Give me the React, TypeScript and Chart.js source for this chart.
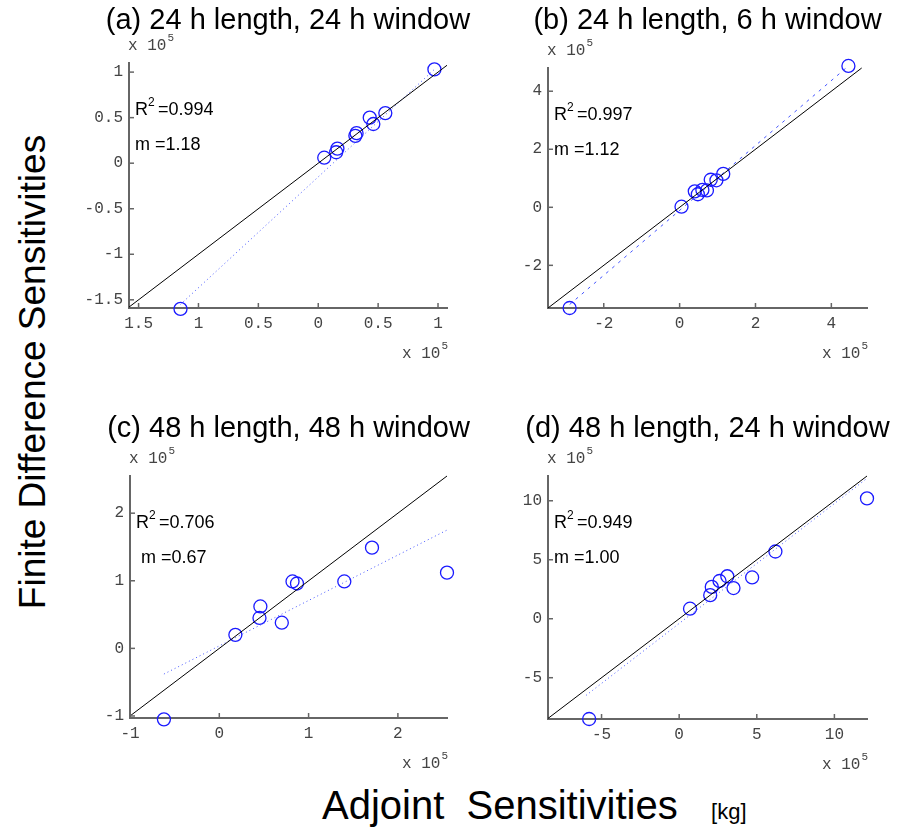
import React, { useEffect, useRef } from "react";
import { Chart, registerables } from "chart.js";
Chart.register(...registerables);

type P = { x: number; y: number };
const ptsA: P[] = [{x:-1.15,y:-1.6},{x:0.05,y:0.06},{x:0.15,y:0.12},{x:0.16,y:0.16},{x:0.31,y:0.3},{x:0.32,y:0.33},{x:0.43,y:0.5},{x:0.46,y:0.43},{x:0.56,y:0.55},{x:0.97,y:1.03}];
const fitA: P[] = [{x:-1.15,y:-1.55},{x:0.97,y:1.03}];
const ptsB: P[] = [{x:-2.9,y:-3.47},{x:0.05,y:0.02},{x:0.4,y:0.55},{x:0.48,y:0.45},{x:0.6,y:0.6},{x:0.72,y:0.58},{x:0.82,y:0.95},{x:0.97,y:0.93},{x:1.15,y:1.15},{x:4.45,y:4.87}];
const fitB: P[] = [{x:-2.9,y:-3.35},{x:4.45,y:4.87}];
const ptsC: P[] = [{x:-0.62,y:-1.05},{x:0.18,y:0.2},{x:0.45,y:0.45},{x:0.46,y:0.62},{x:0.7,y:0.38},{x:0.82,y:0.99},{x:0.87,y:0.96},{x:1.4,y:0.99},{x:1.71,y:1.49},{x:2.55,y:1.12}];
const fitC: P[] = [{x:-0.62,y:-0.38},{x:2.55,y:1.75}];
const ptsD: P[] = [{x:-5.8,y:-8.5},{x:0.7,y:0.85},{x:2.0,y:2.0},{x:2.1,y:2.7},{x:2.6,y:3.2},{x:3.1,y:3.6},{x:3.5,y:2.6},{x:4.7,y:3.5},{x:6.2,y:5.7},{x:12.1,y:10.2}];
const fitD: P[] = [{x:-6.0,y:-6.5},{x:12.0,y:11.8}];

const xTicksA = [-1.5, -1, -0.5, 0, 0.5, 1];
const yTicksA = [-1.5, -1, -0.5, 0, 0.5, 1];
const xTicksB = [-2, 0, 2, 4];
const yTicksB = [-2, 0, 2, 4];
const xTicksC = [-1, 0, 1, 2];
const yTicksC = [-1, 0, 1, 2];
const xTicksD = [-5, 0, 5, 10];
const yTicksD = [-5, 0, 5, 10];

type Panel = {
  title: string; r2: string; m: string; pts: P[]; fit: P[]; fitDash: number[];
  xr: [number, number]; yr: [number, number]; xt: number[]; yt: number[];
  area: [number, number, number, number]; titleTop: number; absX?: boolean; mIndent?: number;
};

const panels: Panel[] = [
  { title: "(a) 24 h length, 24 h window", r2: "0.994", m: "1.18", pts: ptsA, fit: fitA, fitDash: [1, 3],
    xr: [-1.58, 1.075], yr: [-1.59, 1.1], xt: xTicksA, yt: yTicksA, area: [129, 63, 447, 308], titleTop: 3, absX: true },
  { title: "(b) 24 h length, 6 h window", r2: "0.997", m: "1.12", pts: ptsB, fit: fitB, fitDash: [3, 5],
    xr: [-3.47, 4.94], yr: [-3.47, 4.8], xt: xTicksB, yt: yTicksB, area: [548, 68, 867, 308], titleTop: 3 },
  { title: "(c) 48 h length, 48 h window", r2: "0.706", m: "0.67", pts: ptsC, fit: fitC, fitDash: [1, 3],
    xr: [-1, 2.55], yr: [-1.03, 2.55], xt: xTicksC, yt: yTicksC, area: [130, 476, 447, 718], titleTop: 411, mIndent: 5 },
  { title: "(d) 48 h length, 24 h window", r2: "0.949", m: "1.00", pts: ptsD, fit: fitD, fitDash: [1, 3],
    xr: [-8.45, 12.1], yr: [-8.5, 12.1], xt: xTicksD, yt: yTicksD, area: [548, 476, 867, 719], titleTop: 411 },
];

const PL = 60, PT = 45, PR = 15, PB = 55;

function PanelChart({ p }: { p: Panel }) {
  const ref = useRef<HTMLCanvasElement>(null);
  const [l, t, r, b] = p.area;
  const w = r - l + PL + PR, h = b - t + PT + PB;
  useEffect(() => {
    const lo = Math.max(p.xr[0], p.yr[0]);
    const hi = Math.min(p.xr[1], p.yr[1]);
    const deco = {
      id: "deco",
      afterDraw(c: any) {
        const ctx = c.ctx, ca = c.chartArea;
        const xs = c.scales.x, ys = c.scales.y;
        ctx.save();
        ctx.strokeStyle = "#666"; ctx.lineWidth = 1.5;
        p.xt.forEach(v => { const px = xs.getPixelForValue(v); ctx.beginPath(); ctx.moveTo(px, ca.bottom); ctx.lineTo(px, ca.bottom - 5); ctx.stroke(); });
        p.yt.forEach(v => { const py = ys.getPixelForValue(v); ctx.beginPath(); ctx.moveTo(ca.left, py); ctx.lineTo(ca.left + 5, py); ctx.stroke(); });
        ctx.fillStyle = "#444";
        const sci = (x: number, y: number, align: string) => {
          ctx.font = "16px 'Liberation Mono'";
          const main = "x 10"; const mw = ctx.measureText(main).width;
          ctx.font = "11px 'Liberation Mono'"; const sw = ctx.measureText("5").width;
          const x0 = align === "right" ? x - mw - sw : x;
          ctx.textAlign = "left"; ctx.textBaseline = "alphabetic";
          ctx.font = "16px 'Liberation Mono'"; ctx.fillText(main, x0, y);
          ctx.font = "11px 'Liberation Mono'"; ctx.fillText("5", x0 + mw + 1, y - 9);
        };
        sci(ca.left - 1, ca.top - 13, "left");
        sci(ca.right, ca.bottom + 50, "right");
        ctx.fillStyle = "#000";
        ctx.textAlign = "left";
        ctx.font = "18px 'Liberation Sans'";
        const rx = ca.left + 6, ry = ca.top + 52;
        ctx.fillText("R", rx, ry);
        const rw = ctx.measureText("R").width;
        ctx.font = "12px 'Liberation Sans'"; ctx.fillText("2", rx + rw, ry - 9);
        ctx.font = "18px 'Liberation Sans'"; ctx.fillText(" =" + p.r2, rx + rw + 5, ry);
        ctx.fillText("m =" + p.m, rx + (p.mIndent || 0), ca.top + 87);
        ctx.restore();
      },
    };
    const chart = new Chart(ref.current!, {
      type: "scatter",
      data: {
        datasets: [
          { type: "line", data: [{ x: lo, y: lo }, { x: hi, y: hi }], borderColor: "#000", borderWidth: 1, pointRadius: 0, clip: false } as any,
          { type: "line", data: p.fit, borderColor: "#4455ff", borderWidth: 1, borderDash: p.fitDash, pointRadius: 0, clip: false } as any,
          { data: p.pts, pointStyle: "circle", pointRadius: 6.5, borderColor: "#1a1aff", backgroundColor: "rgba(0,0,0,0)", borderWidth: 1.3, clip: false } as any,
        ],
      },
      options: {
        animation: false, responsive: false,
        layout: { padding: { top: PT, right: PR, left: 0, bottom: 0 } },
        plugins: { legend: { display: false }, tooltip: { enabled: false } },
        scales: {
          x: {
            type: "linear", min: p.xr[0], max: p.xr[1],
            afterFit: (s: any) => { s.height = PB; },
            afterBuildTicks: (s: any) => { s.ticks = p.xt.map(v => ({ value: v })); },
            grid: { display: false, drawTicks: false },
            border: { display: true, color: "#666", width: 2 },
            ticks: { padding: 6, color: "#444", font: { family: "Liberation Mono", size: 16 },
              callback: (v: any) => String(p.absX ? Math.abs(v) : v) },
          },
          y: {
            type: "linear", min: p.yr[0], max: p.yr[1],
            afterFit: (s: any) => { s.width = PL; },
            afterBuildTicks: (s: any) => { s.ticks = p.yt.map(v => ({ value: v })); },
            grid: { display: false, drawTicks: false },
            border: { display: true, color: "#666", width: 2 },
            ticks: { padding: 6, color: "#444", font: { family: "Liberation Mono", size: 16 },
              callback: (v: any) => String(v) },
          },
        },
      },
      plugins: [deco],
    } as any);
    return () => chart.destroy();
  }, []);
  return (
    <>
      <canvas ref={ref} width={w} height={h} style={{ position: "absolute", left: l - PL, top: t - PT, width: w, height: h }} />
      <div style={{ position: "absolute", left: (l + r) / 2 - 200, width: 400, top: p.titleTop, textAlign: "center",
        font: "29px 'Liberation Sans'", lineHeight: "32px", color: "#000", whiteSpace: "nowrap" }}>{p.title}</div>
    </>
  );
}

export default function App() {
  useEffect(() => { document.body.style.margin = "0"; }, []);
  return (
    <div style={{ position: "relative", width: 909, height: 829, background: "#fff", overflow: "hidden" }}>
      {panels.map((p, i) => <PanelChart key={i} p={p} />)}
      <div style={{ position: "absolute", left: 33, top: 372, transform: "translate(-50%,-50%) rotate(-90deg)",
        font: "37px 'Liberation Sans'", whiteSpace: "nowrap", color: "#000" }}>Finite Difference Sensitivities</div>
      <div style={{ position: "absolute", left: 322, top: 783, font: "40px 'Liberation Sans'", whiteSpace: "pre", color: "#000" }}>
        Adjoint  Sensitivities   <span style={{ fontSize: 22 }}>[kg]</span>
      </div>
    </div>
  );
}
